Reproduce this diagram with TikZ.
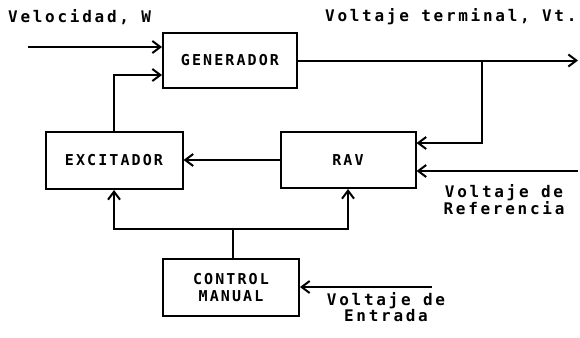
\documentclass[tikz,border=0pt]{standalone}
\usepackage{fontspec}
\usepackage{tikz}
\usetikzlibrary{arrows.meta, calc}
\newfontfamily\dotfont[LetterSpace=14]{DejaVu Sans Mono}
\newfontfamily\widefont[LetterSpace=17]{DejaVu Sans Mono}
\tikzset{
	blk/.style ={rectangle, draw=black, line width=2pt, align=center, inner sep=0pt, font=\dotfont\bfseries\fontsize{15}{17}\selectfont},
	sig/.style ={-{Straight Barb[length=8pt, width=12pt, line width=2pt]}, line width=2pt},
	wire/.style={line width=2pt},
	lbl/.style ={inner sep=0pt, align=center, font=\widefont\bfseries\fontsize{16}{15}\selectfont},
}
\begin{document}
\begin{tikzpicture}[x=1pt, y=-1pt]
	\useasboundingbox (0,0) rectangle (580,337);
	\node[blk, minimum width=134pt, minimum height=55pt] (gen) at (230,60.5) {GENERADOR};
	\node[blk, minimum width=137pt, minimum height=57pt] (exc) at (114,160.5) {EXCITADOR};
	\node[blk, minimum width=135pt, minimum height=56pt] (rav) at (348,160) {RAV};
	\node[blk, minimum width=136pt, minimum height=57pt] (cm) at (231,287.5) {CONTROL\\MANUAL};
	% entradas y salida
	\node[lbl, anchor=west] (vel) at (8,17) {Velocidad, W};
	\node[lbl, anchor=west] (vtl) at (325,17) {Voltaje terminal, Vt.};
	\node[lbl, anchor=north] (ref) at (504,184) {Voltaje de\\Referencia};
	\node[lbl, anchor=north] (ent) at (386,292) {Voltaje de\\Entrada};
	\coordinate (vin) at (28,47); \coordinate (vt) at (578,60.5); \coordinate (br) at (482,60.5);
	\coordinate (vref) at (578,171); \coordinate (vent) at (432,287); \coordinate (bus) at (233,229);
	\draw[sig] (vin) -- (vin -| gen.west);
	\draw[sig] (exc.north) |- ([yshift=-14.5pt]gen.west);
	\draw[sig] (gen.east) -- (vt);
	\draw[sig] (br) |- ([yshift=17pt]rav.east);
	\draw[sig] (vref) -- (vref -| rav.east);
	\draw[sig] (rav.west) -- (exc.east |- rav.west);
	\draw[wire] (cm.north -| bus) -- (bus);
	\draw[sig] (bus) -| (exc.south); \draw[sig] (bus) -| (rav.south);
	\draw[sig] (vent) -- (vent -| cm.east);
\end{tikzpicture}
\end{document}
